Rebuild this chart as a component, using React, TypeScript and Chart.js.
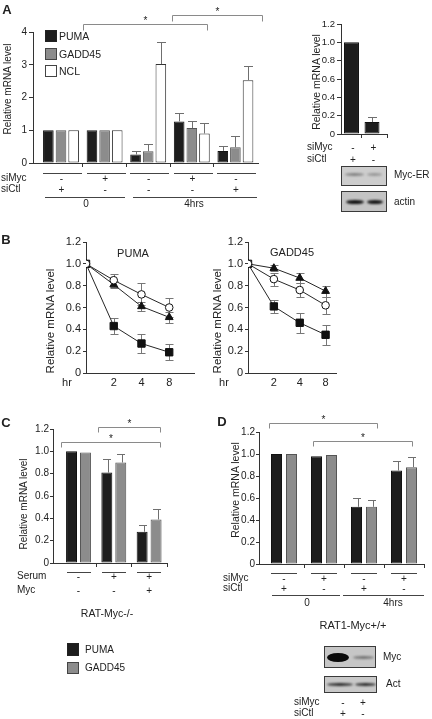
import React, { useEffect, useRef } from 'react';
import Chart from 'chart.js/auto';

// ================= DATA =================
// Panel A (main bar chart)
const A_SIMYC = ['-', '+', '-', '+', '-'];
const A_SICTL = ['+', '-', '-', '-', '+'];
const A_TIMES = ['0', '4hrs'];
const A_PUMA = [1.0, 1.0, 0.26, 1.27, 0.37];
const A_PUMA_ERR = [0, 0, 0.12, 0.27, 0.15];
const A_GADD = [1.0, 1.0, 0.36, 1.07, 0.48];
const A_GADD_ERR = [0, 0, 0.23, 0.2, 0.33];
const A_NCL = [1.0, 1.0, 3.02, 0.9, 2.53];
const A_NCL_ERR = [0, 0, 0.67, 0.31, 0.42];
const A_LEGEND = ['PUMA', 'GADD45', 'NCL'];
const A_BRACKETS = [
  { from: 0.5, to: 3.35, y: 4.24 },
  { from: 2.55, to: 4.61, y: 4.52 },
];

// Panel A inset
const AI_SIMYC = ['-', '+'];
const AI_SICTL = ['+', '-'];
const AI_MYC = [1.0, 0.13];
const AI_MYC_ERR = [0, 0.06];

// Panel B (time course)
const B_HOURS = ['0', '2', '4', '8'];
const B_PUMA_OPEN = [1.0, 0.85, 0.72, 0.6];
const B_PUMA_OPEN_ERR = [0, 0.06, 0.1, 0.09];
const B_PUMA_TRI = [1.0, 0.81, 0.61, 0.51];
const B_PUMA_TRI_ERR = [0, 0.03, 0.04, 0.05];
const B_PUMA_SQ = [1.0, 0.43, 0.27, 0.19];
const B_PUMA_SQ_ERR = [0, 0.07, 0.085, 0.075];
const B_GADD_OPEN = [1.0, 0.86, 0.76, 0.62];
const B_GADD_OPEN_ERR = [0, 0.06, 0.06, 0.08];
const B_GADD_TRI = [1.0, 0.96, 0.87, 0.75];
const B_GADD_TRI_ERR = [0, 0.03, 0.05, 0.05];
const B_GADD_SQ = [1.0, 0.61, 0.46, 0.35];
const B_GADD_SQ_ERR = [0, 0.06, 0.09, 0.09];

// Panel C
const C_SERUM = ['-', '+', '+'];
const C_MYC = ['-', '-', '+'];
const C_PUMA = [1.0, 0.81, 0.28];
const C_PUMA_ERR = [0, 0.12, 0.06];
const C_GADD = [0.99, 0.9, 0.39];
const C_GADD_ERR = [0, 0.08, 0.09];
const C_BRACKETS = [
  { from: 0.55, to: 2.31, y: 1.218 },
  { from: -0.5, to: 2.31, y: 1.083 },
];

// Panel D
const D_SIMYC = ['-', '+', '-', '+'];
const D_SICTL = ['+', '-', '+', '-'];
const D_TIMES = ['0', '4hrs'];
const D_PUMA = [1.0, 0.98, 0.52, 0.85];
const D_PUMA_ERR = [0, 0, 0.08, 0.09];
const D_GADD = [1.0, 0.99, 0.52, 0.88];
const D_GADD_ERR = [0, 0, 0.06, 0.09];
const D_BRACKETS = [
  { from: -0.375, to: 2.325, y: 1.282 },
  { from: 0.725, to: 3.2, y: 1.118 },
];
const BLOT_SIMYC = ['-', '+'];
const BLOT_SICTL = ['+', '-'];

// ================= STYLE =================
const FONT = '"Liberation Sans", Arial, Helvetica, sans-serif';
const INK = '#222';
const AXIS = '#333';
const BLACK = '#1d1d1d';
const GRAY = '#8c8c8c';
const ERR = '#6f6f6f';
const BRK = '#8a8a8a';

Chart.defaults.font.family = FONT;

// ================= PLUGINS =================
function drawErrors(chart: any, opts: any) {
  const { ctx } = chart;
  const yS = chart.scales.y;
  ctx.save();
  ctx.strokeStyle = opts.color || ERR;
  ctx.lineWidth = 1;
  chart.data.datasets.forEach((ds: any, di: number) => {
    if (!ds.errors) return;
    const meta = chart.getDatasetMeta(di);
    meta.data.forEach((el: any, i: number) => {
      const e = ds.errors[i];
      if (!e) return;
      const v = ds.data[i].y;
      const x = Math.round(el.x + (opts.stemShift || 0)) + 0.5;
      const hi = Math.round(yS.getPixelForValue(v + e)) + 0.5;
      const lo = opts.both ? Math.round(yS.getPixelForValue(v - e)) + 0.5 : el.y;
      const c = opts.cap || 4;
      const cx = x + (opts.capShift || 0);
      ctx.beginPath();
      ctx.moveTo(x, lo);
      ctx.lineTo(x, hi);
      ctx.moveTo(cx - c, hi);
      ctx.lineTo(cx + c, hi);
      if (opts.both) {
        ctx.moveTo(cx - c, lo);
        ctx.lineTo(cx + c, lo);
      }
      ctx.stroke();
    });
  });
  ctx.restore();
}

const errorBars = {
  id: 'errorBars',
  beforeDatasetsDraw(chart: any, _a: any, opts: any) {
    if (opts.layer === 'below') drawErrors(chart, opts);
  },
  afterDatasetsDraw(chart: any, _a: any, opts: any) {
    if (opts.layer !== 'below') drawErrors(chart, opts);
  },
};

const sigBrackets = {
  id: 'sigBrackets',
  afterDraw(chart: any, _a: any, opts: any) {
    const items = opts.items || [];
    if (!items.length) return;
    const { ctx } = chart;
    const xS = chart.scales.x;
    const yS = chart.scales.y;
    ctx.save();
    ctx.strokeStyle = BRK;
    ctx.fillStyle = INK;
    ctx.lineWidth = 1;
    items.forEach((b: any) => {
      const x1 = Math.round(xS.getPixelForValue(b.from)) + 0.5;
      const x2 = Math.round(xS.getPixelForValue(b.to)) + 0.5;
      const y = Math.round(yS.getPixelForValue(b.y)) + 0.5;
      ctx.beginPath();
      ctx.moveTo(x1, y + opts.drop);
      ctx.lineTo(x1, y);
      ctx.lineTo(x2, y);
      ctx.lineTo(x2, y + opts.drop);
      ctx.stroke();
      ctx.font = `${opts.starSize || 10}px ${FONT}`;
      ctx.textAlign = 'center';
      ctx.textBaseline = 'alphabetic';
      ctx.fillText('*', (x1 + x2) / 2, y - (opts.starGap || 0));
    });
    ctx.restore();
  },
};

// ================= HELPERS =================
const fmt1 = (v: any) => (Number(v) === 0 ? '0' : Number(v).toFixed(1));
const fmt0 = (v: any) => String(Math.round(Number(v)));

type Frame = { l: number; t: number; r: number; b: number; yW: number; padT: number; padR: number; xH: number };
function boxOf(f: Frame) {
  return {
    left: f.l - f.yW,
    top: f.t - f.padT,
    width: f.yW + (f.r - f.l) + f.padR,
    height: f.padT + (f.b - f.t) + f.xH,
  };
}

function yAxis(f: Frame, max: number, step: number, size: number, tickLen: number, pad: number, fmt: any) {
  return {
    type: 'linear',
    min: 0,
    max,
    ticks: { stepSize: step, font: { family: FONT, size }, color: INK, padding: pad, callback: fmt },
    grid: { drawOnChartArea: false, drawTicks: true, tickLength: tickLen, color: AXIS },
    border: { display: true, color: AXIS, width: 1 },
    afterFit: (s: any) => {
      s.width = f.yW;
    },
  };
}

function xBarAxis(f: Frame, min: number, max: number, tickVals: number[]) {
  return {
    type: 'linear',
    min,
    max,
    offset: false,
    afterBuildTicks: (s: any) => {
      s.ticks = tickVals.map((v) => ({ value: v }));
    },
    ticks: { callback: () => '', padding: 0 },
    grid: { drawOnChartArea: false, drawTicks: true, tickLength: 4, color: AXIS, offset: false },
    border: { display: true, color: AXIS, width: 1 },
    afterFit: (s: any) => {
      s.height = f.xH;
    },
  };
}

function barDS(label: string, vals: number[], errs: number[], fill: string, border: string, cp: number, bp: number) {
  return {
    label,
    data: vals.map((y, x) => ({ x, y })),
    errors: errs,
    backgroundColor: fill,
    borderColor: border,
    borderWidth: 1,
    borderSkipped: false,
    categoryPercentage: cp,
    barPercentage: bp,
  };
}

function baseOptions(f: Frame) {
  return {
    responsive: false,
    maintainAspectRatio: false,
    animation: false,
    events: [],
    layout: { padding: { left: 0, top: f.padT, right: f.padR, bottom: 0 } },
  };
}

function ChartCanvas({ frame, make }: { frame: Frame; make: () => any }) {
  const ref = useRef<HTMLCanvasElement>(null);
  const box = boxOf(frame);
  useEffect(() => {
    const c = new Chart(ref.current as HTMLCanvasElement, make());
    return () => c.destroy();
  }, []);
  return (
    <canvas
      ref={ref}
      width={box.width}
      height={box.height}
      style={{ position: 'absolute', left: box.left, top: box.top, width: box.width, height: box.height }}
    />
  );
}

function Txt(props: { x: number; y: number; children: any; size?: number; align?: string; bold?: boolean; rot?: boolean }) {
  const { x, y, children, size = 10, align = 'center', bold = false, rot = false } = props;
  const tx = align === 'center' ? '-50%' : align === 'right' ? '-100%' : '0';
  return (
    <div
      style={{
        position: 'absolute',
        left: x,
        top: y,
        transform: `translate(${tx}, -50%)${rot ? ' rotate(-90deg)' : ''}`,
        fontSize: size,
        fontWeight: bold ? 700 : 400,
        whiteSpace: 'nowrap',
        lineHeight: 1,
        color: INK,
        fontFamily: FONT,
      }}
    >
      {children}
    </div>
  );
}

function HLine({ x1, x2, y, color = '#444' }: { x1: number; x2: number; y: number; color?: string }) {
  return <div style={{ position: 'absolute', left: x1, top: y, width: x2 - x1, height: 1, background: color }} />;
}

function Swatch({ x, y, w, h, fill, border }: any) {
  return (
    <div
      style={{ position: 'absolute', left: x, top: y, width: w, height: h, background: fill, border: `1px solid ${border}`, boxSizing: 'border-box' }}
    />
  );
}

function Blot({ x, y, w, h, bg, bands }: any) {
  return (
    <div
      style={{
        position: 'absolute',
        left: x,
        top: y,
        width: w,
        height: h,
        background: bg,
        border: '1px solid #3a3a3a',
        boxSizing: 'border-box',
        overflow: 'hidden',
      }}
    >
      {bands.map((b: any, i: number) => (
        <div
          key={i}
          style={{
            position: 'absolute',
            left: b.x,
            top: b.y,
            width: b.w,
            height: b.h,
            background: b.c,
            borderRadius: '50%',
            filter: `blur(${b.blur || 0.8}px)`,
          }}
        />
      ))}
    </div>
  );
}

// ================= FRAMES (layout) =================
const FA: Frame = { l: 33, t: 32, r: 258, b: 163, yW: 33, padT: 32, padR: 12, xH: 10 };
const A_X0 = 61;
const A_UNIT = 43.6;
const FAI: Frame = { l: 341, t: 24, r: 387, b: 134, yW: 41, padT: 10, padR: 5, xH: 10 };
const AI_X0 = 351.5;
const AI_UNIT = 20.5;
const FBP: Frame = { l: 86, t: 242, r: 197, b: 373, yW: 44, padT: 10, padR: 4, xH: 16 };
const FBG: Frame = { l: 248, t: 242, r: 339, b: 373, yW: 36, padT: 10, padR: 4, xH: 16 };
const BP_UNIT = 28.3;
const BG_UNIT = 26.5;
const FC: Frame = { l: 53, t: 429, r: 167, b: 563, yW: 53, padT: 25, padR: 8, xH: 10 };
const C_X0 = 78.5;
const C_UNIT = 35.3;
const FD: Frame = { l: 259, t: 432, r: 424, b: 564, yW: 40, padT: 24, padR: 6, xH: 10 };
const D_X0 = 284;
const D_UNIT = 40;

const vmin = (f: Frame, x0: number, u: number) => (f.l - x0) / u;
const vmax = (f: Frame, x0: number, u: number) => (f.r - x0) / u;

// ================= CHART CONFIGS =================
function makeA() {
  return {
    type: 'bar',
    data: {
      datasets: [
        barDS('PUMA', A_PUMA, A_PUMA_ERR, BLACK, '#111', 0.87, 0.84),
        barDS('GADD45', A_GADD, A_GADD_ERR, GRAY, '#555', 0.87, 0.84),
        barDS('NCL', A_NCL, A_NCL_ERR, '#ffffff', '#333', 0.87, 0.84),
      ],
    },
    options: {
      ...baseOptions(FA),
      scales: {
        x: xBarAxis(FA, vmin(FA, A_X0, A_UNIT), vmax(FA, A_X0, A_UNIT), [0.5, 1.5, 2.5, 3.5]),
        y: yAxis(FA, 4, 1, 10, 4, 2, fmt0),
      },
      plugins: {
        legend: { display: false },
        tooltip: { enabled: false },
        errorBars: { cap: 4.5, color: ERR },
        sigBrackets: { items: A_BRACKETS, drop: 6, starSize: 10, starGap: 1 },
      },
    },
    plugins: [errorBars, sigBrackets],
  };
}

function makeAI() {
  return {
    type: 'bar',
    data: { datasets: [barDS('Myc', AI_MYC, AI_MYC_ERR, BLACK, '#111', 0.73, 1)] },
    options: {
      ...baseOptions(FAI),
      scales: {
        x: xBarAxis(FAI, vmin(FAI, AI_X0, AI_UNIT), vmax(FAI, AI_X0, AI_UNIT), [0.5, vmax(FAI, AI_X0, AI_UNIT)]),
        y: yAxis(FAI, 1.2, 0.2, 9.5, 4, 2, fmt1),
      },
      plugins: {
        legend: { display: false },
        tooltip: { enabled: false },
        errorBars: { cap: 4.5, color: ERR },
      },
    },
    plugins: [errorBars],
  };
}

function lineDS(label: string, vals: number[], errs: number[], style: string, fill: string, radius: number) {
  return {
    label,
    data: vals.map((y, x) => ({ x, y })),
    errors: errs,
    borderColor: '#262626',
    borderWidth: 1,
    pointStyle: style,
    pointRadius: radius,
    pointBackgroundColor: fill,
    pointBorderColor: '#111',
    pointBorderWidth: 1,
    fill: false,
    tension: 0,
  };
}

function makeB(f: Frame, unit: number, sets: any[]) {
  const max = (f.r - f.l) / unit;
  return {
    type: 'line',
    data: { datasets: sets },
    options: {
      ...baseOptions(f),
      scales: {
        x: {
          type: 'linear',
          min: 0,
          max,
          afterBuildTicks: (s: any) => {
            s.ticks = [1, 2, 3].map((v) => ({ value: v }));
          },
          ticks: { callback: (v: any) => B_HOURS[Math.round(Number(v))], font: { family: FONT, size: 11 }, color: INK, padding: 3 },
          grid: { drawOnChartArea: false, drawTicks: false },
          border: { display: true, color: AXIS, width: 1 },
          afterFit: (s: any) => {
            s.height = f.xH;
          },
        },
        y: yAxis(f, 1.2, 0.2, 11, 3, 2, fmt1),
      },
      plugins: {
        legend: { display: false },
        tooltip: { enabled: false },
        errorBars: { cap: 4, color: '#777', both: true, layer: 'below' },
      },
    },
    plugins: [errorBars],
  };
}

function makeC() {
  return {
    type: 'bar',
    data: {
      datasets: [
        barDS('PUMA', C_PUMA, C_PUMA_ERR, BLACK, '#111', 0.79, 0.786),
        barDS('GADD45', C_GADD, C_GADD_ERR, GRAY, '#555', 0.79, 0.786),
      ],
    },
    options: {
      ...baseOptions(FC),
      scales: {
        x: xBarAxis(FC, vmin(FC, C_X0, C_UNIT), vmax(FC, C_X0, C_UNIT), [0.5, 1.5, vmax(FC, C_X0, C_UNIT)]),
        y: yAxis(FC, 1.2, 0.2, 10, 3, 1, fmt1),
      },
      plugins: {
        legend: { display: false },
        tooltip: { enabled: false },
        errorBars: { cap: 4, color: ERR, stemShift: 1.5, capShift: -1.5 },
        sigBrackets: { items: C_BRACKETS, drop: 5, starSize: 10, starGap: 1 },
      },
    },
    plugins: [errorBars, sigBrackets],
  };
}

function makeD() {
  return {
    type: 'bar',
    data: {
      datasets: [
        barDS('PUMA', D_PUMA, D_PUMA_ERR, BLACK, '#111', 0.75, 0.733),
        barDS('GADD45', D_GADD, D_GADD_ERR, GRAY, '#555', 0.75, 0.733),
      ],
    },
    options: {
      ...baseOptions(FD),
      scales: {
        x: xBarAxis(FD, vmin(FD, D_X0, D_UNIT), vmax(FD, D_X0, D_UNIT), [0.5, 1.5, 2.5, 3.5]),
        y: yAxis(FD, 1.2, 0.2, 10, 3, 1, fmt1),
      },
      plugins: {
        legend: { display: false },
        tooltip: { enabled: false },
        errorBars: { cap: 4, color: ERR, stemShift: 1.5, capShift: -1.5 },
        sigBrackets: { items: D_BRACKETS, drop: 5, starSize: 10, starGap: 1 },
      },
    },
    plugins: [errorBars, sigBrackets],
  };
}

const bpSets = () => [
  lineDS('open', B_PUMA_OPEN, B_PUMA_OPEN_ERR, 'circle', '#ffffff', 3.8),
  lineDS('tri', B_PUMA_TRI, B_PUMA_TRI_ERR, 'triangle', '#111', 4.5),
  lineDS('sq', B_PUMA_SQ, B_PUMA_SQ_ERR, 'rect', '#111', 5.2),
];
const bgSets = () => [
  lineDS('open', B_GADD_OPEN, B_GADD_OPEN_ERR, 'circle', '#ffffff', 3.8),
  lineDS('tri', B_GADD_TRI, B_GADD_TRI_ERR, 'triangle', '#111', 4.5),
  lineDS('sq', B_GADD_SQ, B_GADD_SQ_ERR, 'rect', '#111', 5.2),
];

// ================= APP =================
export default function App() {
  const aCenter = (g: number) => A_X0 + A_UNIT * g;
  const cCenter = (g: number) => C_X0 + C_UNIT * g;
  const dCenter = (g: number) => D_X0 + D_UNIT * g;
  const aiCenter = (g: number) => AI_X0 + AI_UNIT * g;
  const legendFill = [BLACK, GRAY, '#ffffff'];
  const legendBorder = ['#222', '#444', '#444'];

  return (
    <div
      style={{
        position: 'absolute',
        left: 0,
        top: 0,
        width: 432,
        height: 719,
        background: '#fff',
        overflow: 'hidden',
        fontFamily: FONT,
        color: INK,
      }}
    >
      {/* ---------- Panel A ---------- */}
      <ChartCanvas frame={FA} make={makeA} />
      <Txt x={7} y={9} size={13} bold>
        A
      </Txt>
      <Txt x={8} y={89} size={10} rot>
        Relative mRNA level
      </Txt>
      {A_LEGEND.map((name, i) => (
        <React.Fragment key={name}>
          <Swatch x={45} y={30 + i * 17.5} w={12} h={12} fill={legendFill[i]} border={legendBorder[i]} />
          <Txt x={59} y={36 + i * 17.5} size={10.5} align="left">
            {name}
          </Txt>
        </React.Fragment>
      ))}
      {A_SIMYC.map((_, g) => (
        <HLine key={'au' + g} x1={aCenter(g) - 18} x2={aCenter(g) + 21} y={173} />
      ))}
      <Txt x={1} y={178} align="left">
        siMyc
      </Txt>
      <Txt x={1} y={189} align="left">
        siCtl
      </Txt>
      {A_SIMYC.map((s, g) => (
        <Txt key={'am' + g} x={aCenter(g) + 0.5} y={179}>
          {s}
        </Txt>
      ))}
      {A_SICTL.map((s, g) => (
        <Txt key={'ac' + g} x={aCenter(g) + 0.5} y={190}>
          {s}
        </Txt>
      ))}
      <HLine x1={45} x2={125} y={197} />
      <HLine x1={133} x2={257} y={197} />
      <Txt x={86} y={204}>
        {A_TIMES[0]}
      </Txt>
      <Txt x={194} y={204}>
        {A_TIMES[1]}
      </Txt>

      {/* ---------- Panel A inset ---------- */}
      <ChartCanvas frame={FAI} make={makeAI} />
      <Txt x={316} y={82} size={10.5} rot>
        Relative mRNA level
      </Txt>
      <Txt x={307} y={147} align="left">
        siMyc
      </Txt>
      <Txt x={307} y={159} align="left">
        siCtl
      </Txt>
      {AI_SIMYC.map((s, g) => (
        <Txt key={'aim' + g} x={aiCenter(g) + 1.5} y={148}>
          {s}
        </Txt>
      ))}
      {AI_SICTL.map((s, g) => (
        <Txt key={'aic' + g} x={aiCenter(g) + 1.5} y={160}>
          {s}
        </Txt>
      ))}
      <Blot
        x={341}
        y={166}
        w={46}
        h={20}
        bg="#cdcdcd"
        bands={[
          { x: 3, y: 6, w: 19, h: 3, c: 'rgba(70,70,70,0.55)' },
          { x: 25, y: 6, w: 15, h: 3, c: 'rgba(70,70,70,0.4)' },
        ]}
      />
      <Txt x={394} y={175} align="left">
        Myc-ER
      </Txt>
      <Blot
        x={341}
        y={191}
        w={46}
        h={21}
        bg="#c4c4c4"
        bands={[
          { x: 4, y: 8, w: 18, h: 4, c: '#111' },
          { x: 25, y: 8, w: 16, h: 4, c: '#151515' },
        ]}
      />
      <Txt x={394} y={202} align="left">
        actin
      </Txt>

      {/* ---------- Panel B ---------- */}
      <ChartCanvas frame={FBP} make={() => makeB(FBP, BP_UNIT, bpSets())} />
      <ChartCanvas frame={FBG} make={() => makeB(FBG, BG_UNIT, bgSets())} />
      <Txt x={6} y={239} size={13} bold>
        B
      </Txt>
      <Txt x={133} y={253} size={11}>
        PUMA
      </Txt>
      <Txt x={292} y={252} size={11}>
        GADD45
      </Txt>
      <Txt x={51} y={321} size={11.5} rot>
        Relative mRNA level
      </Txt>
      <Txt x={218} y={321} size={11.5} rot>
        Relative mRNA level
      </Txt>
      <Txt x={67} y={382} size={11}>
        hr
      </Txt>
      <Txt x={224} y={382} size={11}>
        hr
      </Txt>

      {/* ---------- Panel C ---------- */}
      <ChartCanvas frame={FC} make={makeC} />
      <Txt x={6} y={422} size={13} bold>
        C
      </Txt>
      <Txt x={24} y={504} size={10} rot>
        Relative mRNA level
      </Txt>
      {C_SERUM.map((_, g) => (
        <HLine key={'cu' + g} x1={cCenter(g) - 12} x2={cCenter(g) + 12} y={572} />
      ))}
      <Txt x={17} y={576} align="left">
        Serum
      </Txt>
      <Txt x={17} y={590} align="left">
        Myc
      </Txt>
      {C_SERUM.map((s, g) => (
        <Txt key={'cs' + g} x={cCenter(g)} y={577}>
          {s}
        </Txt>
      ))}
      {C_MYC.map((s, g) => (
        <Txt key={'cm' + g} x={cCenter(g)} y={591}>
          {s}
        </Txt>
      ))}
      <Txt x={107} y={613} size={10.5}>
        RAT-Myc-/-
      </Txt>
      <Swatch x={67} y={643} w={12} h={13} fill={BLACK} border="#222" />
      <Txt x={85} y={650} align="left">
        PUMA
      </Txt>
      <Swatch x={67} y={662} w={12} h={12} fill={GRAY} border="#444" />
      <Txt x={85} y={668} align="left">
        GADD45
      </Txt>

      {/* ---------- Panel D ---------- */}
      <ChartCanvas frame={FD} make={makeD} />
      <Txt x={222} y={421} size={13} bold>
        D
      </Txt>
      <Txt x={235} y={490} size={10.5} rot>
        Relative mRNA level
      </Txt>
      {D_SIMYC.map((_, g) => (
        <HLine key={'du' + g} x1={dCenter(g) - 13} x2={dCenter(g) + 13} y={573} />
      ))}
      <Txt x={223} y={578} align="left">
        siMyc
      </Txt>
      <Txt x={223} y={588} align="left">
        siCtl
      </Txt>
      {D_SIMYC.map((s, g) => (
        <Txt key={'dm' + g} x={dCenter(g)} y={579}>
          {s}
        </Txt>
      ))}
      {D_SICTL.map((s, g) => (
        <Txt key={'dc' + g} x={dCenter(g)} y={589}>
          {s}
        </Txt>
      ))}
      <HLine x1={272} x2={340} y={595} />
      <HLine x1={343} x2={424} y={595} />
      <Txt x={307} y={603}>
        {D_TIMES[0]}
      </Txt>
      <Txt x={393} y={603}>
        {D_TIMES[1]}
      </Txt>
      <Txt x={353} y={625} size={11}>
        RAT1-Myc+/+
      </Txt>
      <Blot
        x={324}
        y={646}
        w={52}
        h={22}
        bg="#c6c6c6"
        bands={[
          { x: 2, y: 6, w: 22, h: 9, c: '#0a0a0a', blur: 0.6 },
          { x: 28, y: 9, w: 21, h: 3, c: 'rgba(60,60,60,0.6)' },
        ]}
      />
      <Txt x={383} y={657} align="left">
        Myc
      </Txt>
      <Blot
        x={324}
        y={676}
        w={53}
        h={17}
        bg="#c8c8c8"
        bands={[
          { x: 2, y: 6, w: 26, h: 3, c: '#2a2a2a' },
          { x: 30, y: 6, w: 21, h: 3, c: '#2a2a2a' },
        ]}
      />
      <Txt x={386} y={684} align="left">
        Act
      </Txt>
      <Txt x={294} y={702} align="left">
        siMyc
      </Txt>
      <Txt x={294} y={713} align="left">
        siCtl
      </Txt>
      {BLOT_SIMYC.map((s, g) => (
        <Txt key={'bm' + g} x={343 + 20 * g} y={703}>
          {s}
        </Txt>
      ))}
      {BLOT_SICTL.map((s, g) => (
        <Txt key={'bc' + g} x={343 + 20 * g} y={714}>
          {s}
        </Txt>
      ))}
    </div>
  );
}
